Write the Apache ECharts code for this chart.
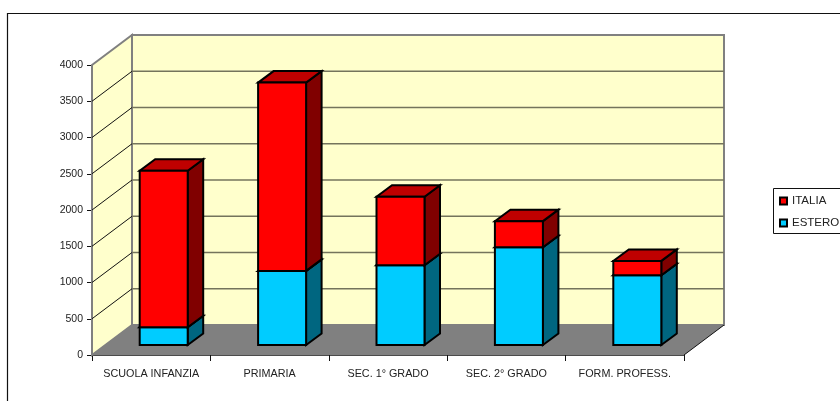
<!DOCTYPE html>
<html><head><meta charset="utf-8">
<style>html,body{margin:0;padding:0;background:#fff;overflow:hidden}#c{width:840px;height:401px}</style>
<script src="https://cdn.jsdelivr.net/npm/echarts@6/dist/echarts.min.js"></script>
</head><body><div id="c"></div>
<script>
const categories = ['SCUOLA INFANZIA','PRIMARIA','SEC. 1° GRADO','SEC. 2° GRADO','FORM. PROFESS.'];
const estero = [245,1022,1100,1349,962];
const italia = [2158,2597,944,359,198];
const yTicks = [0,500,1000,1500,2000,2500,3000,3500,4000];

const DX = 40, DY = -30;
const barW = 48;
const chart = echarts.init(document.getElementById('c'), null, {renderer:'canvas'});

function pts(a){return a.map(p=>[p[0],p[1]]);}
function poly(points, fill, stroke, lw, z2){
  return {type:'polygon', z2:z2||0, shape:{points:pts(points)}, style:{fill:fill, stroke:stroke||null, lineWidth:lw||0, lineJoin:'miter'}};
}
function line(a,b,stroke,lw,z2){
  return {type:'line', z2:z2||0, shape:{x1:a[0],y1:a[1],x2:b[0],y2:b[1]}, style:{stroke:stroke, lineWidth:lw}};
}

function renderFrame(params, api){
  const cs = params.coordSys;
  const L = cs.x, R = cs.x+cs.width, T = cs.y, B = cs.y+cs.height;
  const ch = [];
  ch.push(poly([[L+DX,T+DY],[R+DX,T+DY],[R+DX,B+DY],[L+DX,B+DY]],'#FFFFCC','#808080',2));
  ch.push(poly([[L,T],[L+DX,T+DY],[L+DX,B+DY],[L,B]],'#FFFFCC','#808080',2));
  ch.push(poly([[L,B],[L+DX,B+DY],[R+DX,B+DY],[R,B]],'#808080',null,0));
  yTicks.forEach(v=>{
    const y = api.coord([0,v])[1];
    if(v>0 && v<4000){
      ch.push(line([L+DX,y+DY],[R+DX,y+DY],'#74745c',1.6));
      ch.push(line([L,y],[L+DX,y+DY],'#111',1));
    }
  });
  ch.push(line([R,B],[R+DX,B+DY],'#111',1));
  return {type:'group',children:ch};
}

function renderBar(fc,sc,tc){
  return function(params, api){
    const c0 = api.coord([api.value(0),api.value(1)]);
    const c1 = api.coord([api.value(0),api.value(2)]);
    const fx = c0[0]+12.5-barW/2, fy = -10;
    const bx = 15.5, by = -11.5;
    const x0 = fx, x1 = fx+barW, yb = c0[1]+fy, yt = c1[1]+fy;
    const s = '#000', w = 2;
    return {type:'group',children:[
      poly([[x1,yb],[x1+bx,yb+by],[x1+bx,yt+by],[x1,yt]],sc,s,w),
      poly([[x0,yt],[x1,yt],[x1+bx,yt+by],[x0+bx,yt+by]],tc,s,w),
      poly([[x0,yb],[x1,yb],[x1,yt],[x0,yt]],fc,s,w)
    ]};
  };
}

const esteroData = estero.map((v,i)=>[i,0,v]);
const italiaData = italia.map((v,i)=>[i,estero[i],estero[i]+v]);

chart.setOption({
  animation:false,
  backgroundColor:'#fff',
  textStyle:{fontFamily:'"Liberation Sans", Arial, sans-serif'},
  graphic:[
    {type:'rect',silent:true,z:-1,shape:{x:7.5,y:13.5,width:900,height:500},style:{fill:'#fff',stroke:'#111',lineWidth:1.2}},
    {type:'rect',silent:true,z:0,shape:{x:773.5,y:188.5,width:100,height:45},style:{fill:'#fff',stroke:'#111',lineWidth:1}}
  ],
  grid:{left:92,right:156,top:65,bottom:46,containLabel:false},
  xAxis:{type:'category',data:categories,
    axisLine:{onZero:false,lineStyle:{color:'#111',width:1.5}},
    axisTick:{show:true,alignWithLabel:false,length:6,lineStyle:{color:'#111',width:1}},
    axisLabel:{color:'#222',fontSize:10.8,margin:14,interval:0,fontFamily:'"Liberation Sans"'},
    splitLine:{show:false}},
  yAxis:{type:'value',min:0,max:4000,interval:500,
    axisLine:{show:true,lineStyle:{color:'#333',width:1.2}},
    axisTick:{show:true,length:5,lineStyle:{color:'#111',width:1}},
    axisLabel:{color:'#222',fontSize:10.5,margin:9,formatter:v=>String(v),padding:[2,0,0,0],fontFamily:'"Liberation Sans"'},
    splitLine:{show:false}},
  legend:{orient:'vertical',left:773,top:189,data:['ITALIA','ESTERO'],
    padding:[6,0,6,6],itemGap:10,itemWidth:7,itemHeight:7,
    icon:'rect',selectedMode:false,
    textStyle:{color:'#222',fontSize:11.5,fontFamily:'"Liberation Sans"'}},
  series:[
    {type:'custom',name:'frame',silent:true,data:[[0]],z:1,renderItem:renderFrame,clip:false},
    {type:'custom',name:'ESTERO',data:esteroData,z:3,clip:false,encode:{x:0,y:[1,2]},
      itemStyle:{color:'#00CCFF',borderColor:'#000',borderWidth:1.5},
      renderItem:renderBar('#00CCFF','#006680','#0099BF')},
    {type:'custom',name:'ITALIA',data:italiaData,z:3,clip:false,encode:{x:0,y:[1,2]},
      itemStyle:{color:'#FF0000',borderColor:'#000',borderWidth:1.5},
      renderItem:renderBar('#FF0000','#800000','#BF0000')}
  ]
});
</script></body></html>
